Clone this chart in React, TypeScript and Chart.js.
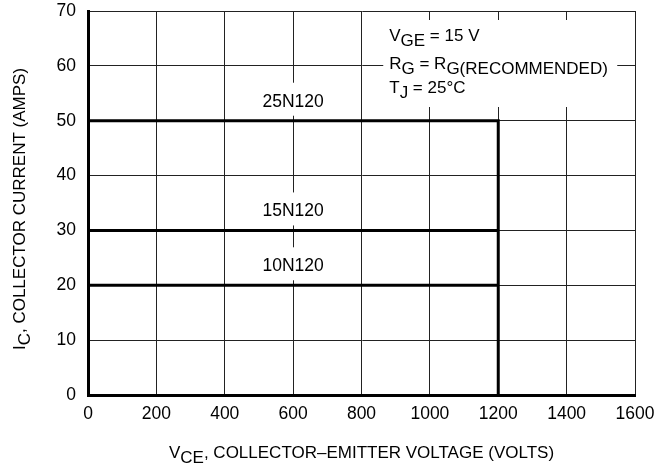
import React, { useEffect, useRef } from "react";
import { Chart, registerables } from "chart.js";

Chart.register(...registerables);

// ---- data ----
const X_TICKS = [0, 200, 400, 600, 800, 1000, 1200, 1400, 1600];
const Y_TICKS = [0, 10, 20, 30, 40, 50, 60, 70];
const DEVICES = ["25N120", "15N120", "10N120"];
const CURRENT_LIMITS = [50, 30, 20];
const VOLTAGE_LIMIT = 1200;
const LABEL_VOLTAGE = 600;

type Seg = { t: string; sub?: boolean };
const X_TITLE: Seg[] = [{ t: "V" }, { t: "CE", sub: true }, { t: ", COLLECTOR\u2013EMITTER VOLTAGE (VOLTS)" }];
const Y_TITLE: Seg[] = [{ t: "I" }, { t: "C", sub: true }, { t: ", COLLECTOR CURRENT (AMPS)" }];
const CONDITIONS: Seg[][] = [
  [{ t: "V" }, { t: "GE", sub: true }, { t: " = 15 V" }],
  [{ t: "R" }, { t: "G", sub: true }, { t: " = R" }, { t: "G(RECOMMENDED)", sub: true }],
  [{ t: "T" }, { t: "J", sub: true }, { t: " = 25\u00B0C" }],
];

const FAMILY = "'Liberation Sans', Arial, Helvetica, sans-serif";
const TICK_SIZE = 17.5;
const MAIN_SIZE = 17;
const SUB_SIZE = 17;
const SUB_DROP = 5;

function segWidth(ctx: CanvasRenderingContext2D, segs: Seg[]) {
  let w = 0;
  for (const s of segs) {
    ctx.font = `${s.sub ? SUB_SIZE : MAIN_SIZE}px ${FAMILY}`;
    w += ctx.measureText(s.t).width;
  }
  return w;
}

function drawSegs(ctx: CanvasRenderingContext2D, segs: Seg[], x: number, y: number) {
  ctx.textAlign = "left";
  ctx.textBaseline = "alphabetic";
  let cx = x;
  for (const s of segs) {
    ctx.font = `${s.sub ? SUB_SIZE : MAIN_SIZE}px ${FAMILY}`;
    ctx.fillText(s.t, cx, y + (s.sub ? SUB_DROP : 0));
    cx += ctx.measureText(s.t).width;
  }
}

const annotationPlugin = {
  id: "annotations",
  afterDraw(chart: any) {
    const ctx: CanvasRenderingContext2D = chart.ctx;
    const xs = chart.scales.x;
    const ys = chart.scales.y;
    const area = chart.chartArea;
    ctx.save();
    ctx.fillStyle = "#000";

    // device labels
    DEVICES.forEach((name, i) => {
      ctx.font = `${TICK_SIZE}px ${FAMILY}`;
      const px = xs.getPixelForValue(LABEL_VOLTAGE);
      const py = ys.getPixelForValue(CURRENT_LIMITS[i]);
      const base = py - 14;
      const w = ctx.measureText(name).width;
      ctx.fillStyle = "#fff";
      ctx.fillRect(px - w / 2 - 4, base - 24, w + 8, 33);
      ctx.fillStyle = "#000";
      ctx.textAlign = "center";
      ctx.textBaseline = "alphabetic";
      ctx.fillText(name, px, base);
    });

    // conditions box
    const bx0 = xs.getPixelForValue(VOLTAGE_LIMIT) - 115;
    ctx.fillStyle = "#fff";
    ctx.fillRect(bx0, area.top + 9, 234, 87);
    ctx.fillStyle = "#000";
    const offsets = [30, 58, 82];
    CONDITIONS.forEach((line, i) => drawSegs(ctx, line, bx0 + 6, area.top + offsets[i]));

    // x title
    const xw = segWidth(ctx, X_TITLE);
    drawSegs(ctx, X_TITLE, (area.left + area.right) / 2 - xw / 2, 458);

    // y title (rotated)
    const yw = segWidth(ctx, Y_TITLE);
    ctx.translate(25, (area.top + area.bottom) / 2 + 6 + yw / 2);
    ctx.rotate(-Math.PI / 2);
    drawSegs(ctx, Y_TITLE, 0, 0);
    ctx.restore();
  },
};

export default function App() {
  const ref = useRef<HTMLCanvasElement | null>(null);

  useEffect(() => {
    if (!ref.current) return;
    const datasets = DEVICES.map((name, i) => {
      const pts = [
        { x: 0, y: CURRENT_LIMITS[i] },
        { x: VOLTAGE_LIMIT, y: CURRENT_LIMITS[i] },
      ];
      if (i === 0) pts.push({ x: VOLTAGE_LIMIT, y: 0 });
      return {
        label: name,
        data: pts,
        showLine: true,
        borderColor: "#000",
        backgroundColor: "#000",
        borderWidth: 3,
        pointRadius: 0,
        borderCapStyle: "butt" as const,
        borderJoinStyle: "miter" as const,
        fill: false,
        tension: 0,
      };
    });

    const tickFont = { family: FAMILY, size: TICK_SIZE };
    const chart = new Chart(ref.current, {
      type: "scatter",
      data: { datasets },
      plugins: [annotationPlugin],
      options: {
        animation: false,
        responsive: false,
        devicePixelRatio: 1,
        layout: { padding: { top: 11, right: 23, left: 0, bottom: 0 } },
        plugins: { legend: { display: false }, tooltip: { enabled: false } },
        scales: {
          x: {
            type: "linear",
            min: 0,
            max: 1600,
            afterBuildTicks: (s: any) => {
              s.ticks = X_TICKS.map((v) => ({ value: v }));
            },
            afterFit: (s: any) => {
              s.height = 74;
              s.paddingLeft = 0;
              s.paddingRight = 0;
            },
            ticks: {
              color: "#000",
              font: tickFont,
              padding: 9,
              maxRotation: 0,
              autoSkip: false,
              callback: (v: any) => String(v),
            },
            grid: { color: "#222", lineWidth: 1, drawTicks: false },
            border: { display: true, color: "#000", width: 3 },
          },
          y: {
            type: "linear",
            min: 0,
            max: 70,
            afterBuildTicks: (s: any) => {
              s.ticks = Y_TICKS.map((v) => ({ value: v }));
            },
            afterFit: (s: any) => {
              s.width = 88;
              s.paddingTop = 0;
              s.paddingBottom = 0;
            },
            ticks: { color: "#000", font: tickFont, padding: 12, autoSkip: false, callback: (v: any) => String(v) },
            grid: { color: "#222", lineWidth: 1, drawTicks: false },
            border: { display: true, color: "#000", width: 3 },
          },
        },
      },
    });
    return () => chart.destroy();
  }, []);

  return (
    <div style={{ position: "absolute", left: 0, top: 0, width: 658, height: 469, background: "#fff" }}>
      <canvas ref={ref} width={658} height={469} style={{ width: 658, height: 469, display: "block" }} />
    </div>
  );
}
